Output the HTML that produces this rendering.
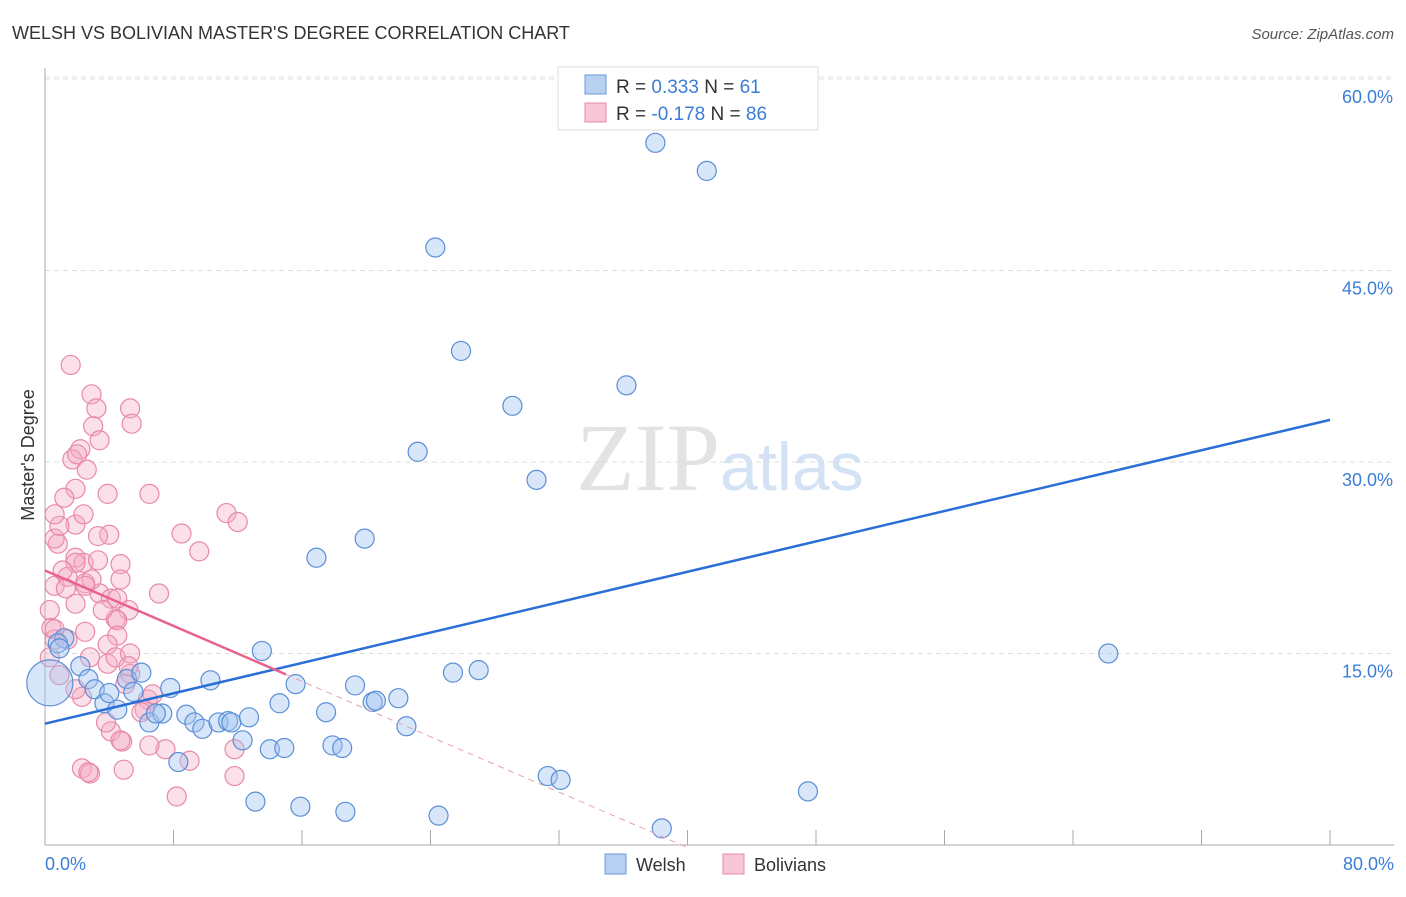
<!DOCTYPE html>
<html><head><meta charset="utf-8"><style>
body{margin:0;background:#fff;font-family:"Liberation Sans",sans-serif;}
</style></head><body>
<svg width="1406" height="892" viewBox="0 0 1406 892" xmlns="http://www.w3.org/2000/svg">
<text x="12" y="39" font-size="18" fill="#333">WELSH VS BOLIVIAN MASTER'S DEGREE CORRELATION CHART</text>
<text x="1394" y="39" font-size="15" fill="#555" font-style="italic" text-anchor="end">Source: ZipAtlas.com</text>
<text x="720" y="490" font-size="96" fill="#e3e3e3" font-family="Liberation Serif,serif" text-anchor="end">ZIP</text>
<text x="720" y="490" font-size="68" fill="#d4e2f5">atlas</text>
<g id="grid"></g><g id="axes"></g><g id="trends"></g><g id="pts"></g>
<text x="34" y="455" font-size="18" fill="#333" transform="rotate(-90 34 455)" text-anchor="middle">Master's Degree</text>
<text x="45" y="870" font-size="18" fill="#3b7dd8">0.0%</text>
<text x="1394" y="870" font-size="18" fill="#3b7dd8" text-anchor="end">80.0%</text>
<g>
<rect x="558" y="67" width="260" height="63" fill="#fff" stroke="#ddd"/>
<rect x="585" y="75" width="21" height="19" fill="#b8d0f2" stroke="#6a9ad8"/>
<rect x="585" y="103" width="21" height="19" fill="#f8c6d6" stroke="#e889a8"/>
<text x="616" y="93" font-size="19" fill="#333">R = <tspan fill="#3b7dd8">0.333</tspan>   N = <tspan fill="#3b7dd8">61</tspan></text>
<text x="616" y="120" font-size="19" fill="#333">R = <tspan fill="#3b7dd8">-0.178</tspan>   N = <tspan fill="#3b7dd8">86</tspan></text>
</g>
<g>
<rect x="605" y="854" width="21" height="20" fill="#b8d0f2" stroke="#6a9ad8"/>
<text x="636" y="871" font-size="18" fill="#333">Welsh</text>
<rect x="723" y="854" width="21" height="20" fill="#f8c6d6" stroke="#e889a8"/>
<text x="754" y="871" font-size="18" fill="#333">Bolivians</text>
</g>
</svg>
<script>
const NS="http://www.w3.org/2000/svg";
const yTicks=[15,30,45,60];
const yTickLabels=["15.0%","30.0%","45.0%","60.0%"];
const xTicks=[0,8,16,24,32,40,48,56,64,72,80];
const welshX=[38.0,41.2,24.3,25.9,36.2,29.1,23.2,30.6,19.9,16.9,66.2,13.5,27.0,25.4,0.3,1.2,0.8,2.2,2.7,3.1,3.7,4.5,5.1,6.0,5.5,6.5,7.3,6.9,7.8,8.8,9.3,9.8,10.3,10.8,11.4,11.6,12.3,12.7,14.0,14.9,14.6,15.6,17.5,17.9,18.5,19.3,20.4,20.6,22.0,22.5,8.3,13.1,15.9,18.7,24.5,31.3,32.1,38.4,47.5,4.0,0.9];
const welshY=[55.0,52.8,46.8,38.7,36.0,34.4,30.8,28.6,24.0,22.5,15.0,15.2,13.7,13.5,12.7,16.2,15.8,14.0,13.0,12.2,11.1,10.6,13.0,13.5,12.0,9.6,10.3,10.3,12.3,10.2,9.6,9.1,12.9,9.6,9.7,9.6,8.2,10.0,7.5,7.6,11.1,12.6,10.4,7.8,7.6,12.5,11.2,11.3,11.5,9.3,6.5,3.4,3.0,2.6,2.3,5.4,5.1,1.3,4.2,11.9,15.4];
const bolX=[1.6,2.9,3.2,5.3,3.0,5.4,3.4,2.2,1.7,2.0,2.6,1.9,1.2,3.9,1.9,4.0,2.4,1.9,0.8,2.4,0.6,3.3,0.6,1.9,1.4,1.1,1.3,1.9,3.4,2.5,2.9,4.7,5.2,4.1,4.4,6.5,8.5,9.6,11.3,12.0,7.1,4.5,4.7,3.3,0.9,0.6,2.5,3.6,4.5,4.5,0.3,0.4,1.4,3.9,3.9,4.4,5.3,5.3,5.2,2.5,0.6,6.4,6.2,2.3,6.7,4.1,4.8,3.8,0.6,4.7,2.3,2.8,4.9,7.5,9.0,2.7,8.2,11.8,11.8,6.5,6.0,1.9,0.9,0.3,2.8,5.0];
const bolY=[37.6,35.3,34.2,34.2,32.8,33.0,31.7,31.0,30.2,30.6,29.4,27.9,27.2,27.5,25.1,24.3,25.9,22.5,23.6,22.1,24.0,22.3,20.3,22.1,21.0,21.5,20.1,18.9,19.7,20.5,20.8,22.0,18.4,19.3,17.7,27.5,24.4,23.0,26.0,25.3,19.7,19.3,20.8,24.2,25.0,25.9,20.3,18.4,17.6,16.4,18.4,17.0,16.1,15.7,14.2,14.7,15.0,13.4,14.0,16.7,16.1,11.4,10.6,11.6,11.8,8.9,8.1,9.6,16.9,8.2,6.0,5.6,5.9,7.5,6.6,5.7,3.8,5.4,7.5,7.8,10.4,12.2,13.3,14.7,14.7,12.6];
const welshTrend=[9.5,33.3];   // y at x=0 and x=80
const bolTrend=[21.5,-0.2];    // y at x=0 and x=40
const bolSolidEnd=15;
const X=v=>45+v/80*1285, Y=v=>845-v*12.767;
function el(t,a,p){const e=document.createElementNS(NS,t);for(const k in a)e.setAttribute(k,a[k]);p.appendChild(e);return e;}
const grid=document.getElementById('grid'),axes=document.getElementById('axes'),tr=document.getElementById('trends'),pts=document.getElementById('pts');
yTicks.forEach((v,i)=>{
 const l=el('line',{x1:45,x2:1394,y1:Y(v),y2:Y(v),stroke:'#ddd','stroke-dasharray':'5,4'},grid);
 
 
 const t=el('text',{x:1393,y:Y(v)+24,'font-size':18,fill:'#3b7dd8','text-anchor':'end'},grid);
 t.textContent=yTickLabels[i];
 
 
});
const gt=el('line',{x1:45,x2:1394,y1:Y(60)-2,y2:Y(60)-2,stroke:'#e6e6e6','stroke-dasharray':'5,4'},grid);
const ya=el('line',{x1:45,x2:45,y1:68,y2:845,stroke:'#aaa'},axes);


const xa=el('line',{x1:45,x2:1394,y1:845,y2:845,stroke:'#aaa'},axes);


xTicks.forEach(v=>{const t=el('line',{x1:X(v),x2:X(v),y1:830,y2:845,stroke:'#aaa'},axes);
 
 });
function dot(x,y,r,f,s,name){const c=el('circle',{cx:X(x),cy:Y(y),r:r,fill:f,stroke:s,'stroke-width':1.2},pts);
 
 }
bolX.forEach((x,i)=>dot(x,bolY[i],9.5,'rgba(245,170,196,0.38)','#e889a8','bolivian-point'));
welshX.forEach((x,i)=>dot(x,welshY[i],i==14?23:9.5,'rgba(160,196,240,0.42)','#5b8fd6','welsh-point'));
const wl=el('line',{x1:X(0),y1:Y(welshTrend[0]),x2:X(80),y2:Y(welshTrend[1]),stroke:'#2a6fd6','stroke-width':2.5},tr);


const bs=(bolTrend[1]-bolTrend[0])/40, by=x=>bolTrend[0]+bs*x;
const bl=el('line',{x1:X(0),y1:Y(by(0)),x2:X(bolSolidEnd),y2:Y(by(bolSolidEnd)),stroke:'#e8628c','stroke-width':2.5},tr);


const bd=el('line',{x1:X(bolSolidEnd),y1:Y(by(bolSolidEnd)),x2:X(40),y2:Y(by(40)),stroke:'#e8a0b6','stroke-width':1,'stroke-dasharray':'6,5'},tr);


pts.parentNode.appendChild(tr);
</script>
</body></html>
